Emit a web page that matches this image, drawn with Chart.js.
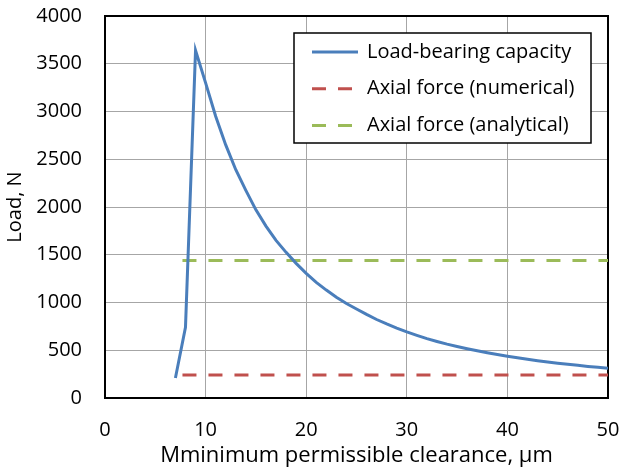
<!DOCTYPE html>
<html>
<head>
<meta charset="utf-8">
<script src="https://cdn.jsdelivr.net/npm/chart.js@4/dist/chart.umd.min.js"></script>
<style>
  html, body { margin: 0; padding: 0; background: #fff; }
</style>
</head>
<body>
<canvas id="chart" width="622" height="470"></canvas>
<script>
// values
const clearance = [7, 8, 9, 10, 11, 12, 13, 14, 15, 16, 17, 18, 19, 20, 21, 22, 23, 24, 25, 26, 27, 28,
  29, 30, 31, 32, 33, 34, 35, 36, 37, 38, 39, 40, 41, 42, 43, 44, 45, 46, 47, 48, 49, 50];
const capacity = [210, 740, 3640, 3300, 2950, 2650, 2390, 2175, 1970, 1800, 1650, 1525, 1410, 1305, 1210,
  1130, 1055, 990, 932, 875, 822, 775, 732, 692, 656, 622, 592, 564, 540, 516, 494, 474, 455, 437,
  421, 405, 391, 378, 365, 353, 342, 331, 321, 311];
const axialX = [7.7, 50];
const axialNumerical = [240, 240];
const axialAnalytical = [1440, 1440];
const seriesNames = ['Load-bearing capacity', 'Axial force (numerical)', 'Axial force (analytical)'];
const xRange = [0, 50];
const yRange = [0, 4000];

const FONT = '"Open Sans"';
Chart.defaults.font.family = FONT;
Chart.defaults.font.size = 20;
Chart.defaults.color = '#000';

function pts(xs, ys) {
  return xs.map((x, i) => ({ x: x, y: ys[i] }));
}

function noPad(scale) {
  scale.paddingLeft = 0;
  scale.paddingRight = 0;
  scale.paddingTop = 0;
  scale.paddingBottom = 0;
}

// plot frame + legend box inside the plot area
const framePlugin = {
  id: 'frame',
  beforeDatasetsDraw(chart) {
    const a = chart.chartArea, ctx = chart.ctx;
    ctx.save();
    ctx.strokeStyle = '#000';
    ctx.lineWidth = 2;
    ctx.strokeRect(a.left, a.top, a.right - a.left, a.bottom - a.top);
    ctx.restore();
  },
  afterDatasetsDraw(chart) {
    const a = chart.chartArea, ctx = chart.ctx;
    const sets = chart.data.datasets;
    const w = 297, h = 110;
    const left = a.right - 17 - w, top = a.top + 17;
    ctx.save();
    ctx.fillStyle = '#fff';
    ctx.fillRect(left, top, w, h);
    ctx.strokeStyle = '#000';
    ctx.lineWidth = 1.5;
    ctx.strokeRect(left, top, w, h);
    ctx.font = '20px ' + FONT;
    ctx.textBaseline = 'middle';
    sets.forEach((ds, i) => {
      const y = top + 19 + i * 36.7;
      ctx.beginPath();
      ctx.strokeStyle = ds.borderColor;
      ctx.lineWidth = 3;
      ctx.setLineDash(ds.borderDash || []);
      ctx.moveTo(left + 18, y);
      ctx.lineTo(left + 64, y);
      ctx.stroke();
      ctx.setLineDash([]);
      ctx.fillStyle = '#000';
      ctx.fillText(ds.label, left + 73, y);
    });
    ctx.restore();
  }
};

new Chart(document.getElementById('chart'), {
  type: 'line',
  data: {
    datasets: [
      {
        label: seriesNames[0],
        data: pts(clearance, capacity),
        borderColor: '#4a7ebb',
        borderWidth: 3,
        pointRadius: 0,
        tension: 0
      },
      {
        label: seriesNames[1],
        data: pts(axialX, axialNumerical),
        borderColor: '#c0504d',
        borderWidth: 3,
        borderDash: [14, 12],
        pointRadius: 0
      },
      {
        label: seriesNames[2],
        data: pts(axialX, axialAnalytical),
        borderColor: '#9bbb59',
        borderWidth: 3,
        borderDash: [14, 12],
        pointRadius: 0
      }
    ]
  },
  options: {
    responsive: false,
    animation: false,
    devicePixelRatio: 1,
    layout: { padding: { top: 16, right: 14, left: 0, bottom: 0 } },
    plugins: {
      legend: { display: false },
      tooltip: { enabled: false }
    },
    scales: {
      x: {
        type: 'linear',
        min: xRange[0],
        max: xRange[1],
        ticks: { stepSize: 10, padding: 20, callback: v => String(v) },
        grid: { color: '#a6a6a6', lineWidth: 1, drawTicks: false },
        border: { display: false },
        title: {
          display: true,
          text: 'Mminimum permissible clearance, µm',
          font: { size: 22 },
          padding: { top: 0, bottom: 1 }
        },
        afterFit(scale) { scale.height = 72; noPad(scale); }
      },
      y: {
        min: yRange[0],
        max: yRange[1],
        ticks: { stepSize: 500, padding: 23, callback: v => String(v) },
        grid: { color: '#a6a6a6', lineWidth: 1, drawTicks: false },
        border: { display: false },
        title: {
          display: true,
          text: 'Load, N',
          padding: { top: 3, bottom: 0 }
        },
        afterFit(scale) { scale.width = 105; noPad(scale); }
      }
    }
  },
  plugins: [framePlugin]
});
</script>
</body>
</html>
